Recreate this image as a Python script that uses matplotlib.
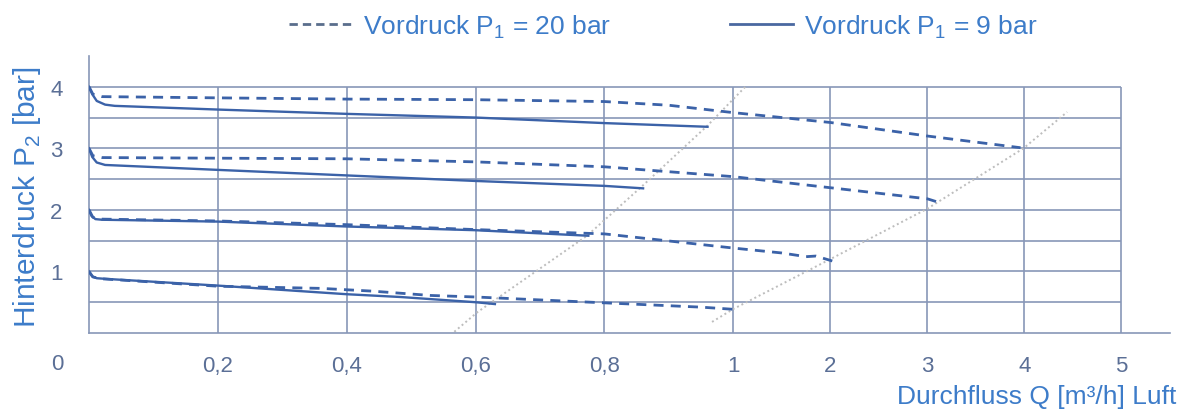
import numpy as np
import matplotlib
matplotlib.use("Agg")
import matplotlib.pyplot as plt
from matplotlib.lines import Line2D

plt.rcParams['font.family'] = ['Liberation Sans', 'DejaVu Sans']
plt.rcParams['mathtext.fontset'] = 'custom'
plt.rcParams['mathtext.rm'] = 'Liberation Sans'

# P1 = 20 bar (dashed)
q20_4 = [0, 0.006, 0.02, 0.2, 0.4, 0.6, 0.8, 0.9, 1.0, 2.0, 3.0, 3.96]
p20_4 = [4.0, 3.88, 3.84, 3.82, 3.80, 3.79, 3.76, 3.70, 3.58, 3.42, 3.20, 3.01]
q20_3 = [0, 0.006, 0.02, 0.2, 0.4, 0.6, 0.8, 1.0, 2.0, 3.0, 3.1]
p20_3 = [3.0, 2.88, 2.85, 2.84, 2.83, 2.78, 2.70, 2.54, 2.36, 2.18, 2.13]
q20_2 = [0, 0.006, 0.02, 0.2, 0.4, 0.6, 0.8, 1.0, 1.5, 1.75, 1.85, 2.02]
p20_2 = [2.0, 1.88, 1.85, 1.82, 1.76, 1.68, 1.61, 1.38, 1.30, 1.24, 1.25, 1.17]
q20_1 = [0, 0.006, 0.02, 0.2, 0.36, 0.44, 0.53, 0.6, 0.8, 0.95, 1.0, 1.04]
p20_1 = [1.0, 0.91, 0.88, 0.76, 0.725, 0.68, 0.61, 0.585, 0.49, 0.42, 0.385, 0.37]

# P1 = 9 bar (solid)
q9_4 = [0, 0.005, 0.012, 0.025, 0.04, 0.2, 0.4, 0.6, 0.8, 0.96]
p9_4 = [4.0, 3.88, 3.77, 3.71, 3.69, 3.63, 3.56, 3.50, 3.41, 3.35]
q9_3 = [0, 0.005, 0.012, 0.025, 0.2, 0.4, 0.6, 0.8, 0.86]
p9_3 = [3.0, 2.86, 2.77, 2.73, 2.65, 2.56, 2.47, 2.39, 2.35]
q9_2 = [0, 0.004, 0.01, 0.02, 0.2, 0.4, 0.6, 0.775]
p9_2 = [2.0, 1.90, 1.85, 1.84, 1.81, 1.73, 1.67, 1.58]
q9_1 = [0, 0.005, 0.012, 0.025, 0.2, 0.4, 0.483, 0.6, 0.63]
p9_1 = [1.0, 0.92, 0.89, 0.88, 0.77, 0.63, 0.585, 0.50, 0.47]

# dotted limit lines
lim9_q = [0.567, 0.603, 0.773, 0.86, 0.96, 1.0, 1.124]
lim9_p = [0.02, 0.34, 1.58, 2.40, 3.37, 3.80, 4.0]
lim20_q = [0.967, 1.0, 2.0, 3.0, 3.99, 4.44]
lim20_p = [0.18, 0.39, 1.20, 2.02, 3.0, 3.59]

xticks = [0.2, 0.4, 0.6, 0.8, 1, 2, 3, 4, 5]
xticklabels = ['0,2', '0,4', '0,6', '0,8', '1', '2', '3', '4', '5']
yticks = [1, 2, 3, 4]
ygrid = [0.5, 1, 1.5, 2, 2.5, 3, 3.5, 4]
legend_labels = ['Vordruck P$_\\mathregular{1}$ = 20 bar', 'Vordruck P$_\\mathregular{1}$ = 9 bar']

# x axis: 0..1 linear, above 1 compressed
r = 97 / 644

def fwd(x):
    x = np.asarray(x, dtype=float)
    return np.where(x <= 1, x, 1 + (x - 1) * r)

def inv(u):
    u = np.asarray(u, dtype=float)
    return np.where(u <= 1, u, 1 + (u - 1) / r)

line_c = '#3b62a8'
grid_c = '#8797b8'
tick_c = '#5b6f96'
text_c = '#3d7cc9'

fig = plt.figure(figsize=(11.86, 4.10), dpi=100)
ax = fig.add_axes([89 / 1186, 76 / 410, (1170 - 89) / 1186, (334 - 57) / 410])
ax.set_xscale('function', functions=(fwd, inv))
ax.set_xlim(0, 5.5)
ax.set_ylim(0, 4.5)

ax.hlines(ygrid, 0, 5, color=grid_c, lw=1.2, zorder=1)
ax.vlines(xticks, 0, 4, color=grid_c, lw=1.2, zorder=1)

for s in ['top', 'right']:
    ax.spines[s].set_visible(False)
for s in ['left', 'bottom']:
    ax.spines[s].set_color(grid_c)
    ax.spines[s].set_linewidth(1.2)

ax.plot(lim9_q, lim9_p, color='#bdbdbd', lw=1.4, ls=(0, (1, 1.5)), zorder=2)
ax.plot(lim20_q, lim20_p, color='#bdbdbd', lw=1.4, ls=(0, (1, 1.5)), zorder=2)

dash = (0, (3.6, 2.6))
for q, p in [(q20_4, p20_4), (q20_3, p20_3), (q20_2, p20_2), (q20_1, p20_1)]:
    ax.plot(q, p, color=line_c, lw=2.0, ls=dash, zorder=3)
for q, p in [(q9_4, p9_4), (q9_3, p9_3), (q9_2, p9_2), (q9_1, p9_1)]:
    ax.plot(q, p, color=line_c, lw=1.7, zorder=4)

ax.set_xticks(xticks)
ax.set_xticklabels(xticklabels)
ax.set_yticks(yticks)
ax.minorticks_off()
ax.tick_params(axis='x', length=0, pad=16, labelsize=16, labelcolor=tick_c)
ax.tick_params(axis='y', length=0, pad=19, labelsize=16, labelcolor=tick_c)
fig.text(57 / 1186, (410 - 365) / 410, '0', fontsize=16, color=tick_c, ha='center', va='center')

fig.text(27 / 1186, (410 - 197) / 410, 'Hinterdruck P$_\\mathregular{2}$ [bar]', rotation=90,
         fontsize=21.5, color=text_c, ha='center', va='center')
fig.text(1176 / 1186, (410 - 397) / 410, 'Durchfluss Q [m³/h] Luft', fontsize=19,
         color=text_c, ha='right', va='center')

handles = [Line2D([], [], color='#5a6e8c', lw=2, ls=(0, (3.0, 1.8))),
           Line2D([], [], color='#4a68a0', lw=2)]
fig.legend(handles, legend_labels, loc='center', bbox_to_anchor=(663 / 1186, (410 - 27) / 410),
           ncol=2, frameon=False, fontsize=19, labelcolor=text_c, handlelength=2.4,
           handletextpad=0.4, columnspacing=4.5)

fig.savefig('out.png', dpi=100)
